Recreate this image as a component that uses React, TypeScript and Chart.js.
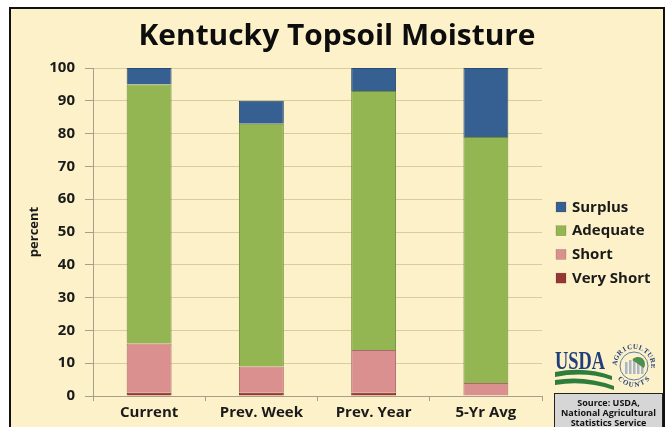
import React, { useEffect, useRef } from "react";
import { Chart, registerables } from "chart.js";

Chart.register(...registerables);

const categories = ["Current", "Prev. Week", "Prev. Year", "5-Yr Avg"];
const veryShort = [1, 1, 1, 0];
const short = [15, 8, 13, 4];
const adequate = [79, 74, 79, 75];
const surplus = [5, 7, 7, 21];
const yTicks = [0, 10, 20, 30, 40, 50, 60, 70, 80, 90, 100];

const TITLE = "Kentucky Topsoil Moisture";
const FONT = "'Open Sans', Lato, sans-serif";

const framePlugin = {
  id: "frame",
  beforeDraw(chart: any) {
    const ctx = chart.ctx;
    ctx.save();
    ctx.fillStyle = "#ffffff";
    ctx.fillRect(0, 0, chart.width, chart.height);
    ctx.fillStyle = "#FCF1C8";
    ctx.fillRect(10, 8, 654, chart.height);
    ctx.strokeStyle = "#111111";
    ctx.lineWidth = 2;
    ctx.beginPath();
    ctx.moveTo(10, chart.height + 5);
    ctx.lineTo(10, 8);
    ctx.lineTo(664, 8);
    ctx.lineTo(664, chart.height + 5);
    ctx.stroke();
    ctx.restore();
  },
  afterDraw(chart: any) {
    const ctx = chart.ctx;
    ctx.save();
    // title
    ctx.fillStyle = "#0d0d0d";
    ctx.font = `bold 28px ${FONT}`;
    ctx.textAlign = "center";
    ctx.textBaseline = "alphabetic";
    const tw = ctx.measureText(TITLE).width;
    ctx.save();
    ctx.translate(337, 45);
    ctx.scale(397 / tw, 1);
    ctx.fillText(TITLE, 0, 0);
    ctx.restore();

    // legend
    const items = [...chart.data.datasets].reverse();
    ctx.font = `bold 15px ${FONT}`;
    ctx.textAlign = "left";
    ctx.textBaseline = "middle";
    items.forEach((ds: any, i: number) => {
      const cy = 207 + i * 23.7;
      ctx.fillStyle = ds.backgroundColor;
      ctx.fillRect(556, cy - 5, 10, 10);
      ctx.strokeStyle = "rgba(0,0,0,0.25)";
      ctx.lineWidth = 0.5;
      ctx.strokeRect(556, cy - 5, 10, 10);
      ctx.fillStyle = "#1a1a1a";
      ctx.fillText(ds.label, 572, cy + 0.5);
    });

    // USDA logo approximation
    ctx.save();
    ctx.fillStyle = "#1F3E7C";
    ctx.font = `bold 26px 'Liberation Serif', serif`;
    ctx.textBaseline = "alphabetic";
    ctx.translate(555, 369);
    const uw = ctx.measureText("USDA").width;
    ctx.scale(50 / uw, 1);
    ctx.fillText("USDA", 0, 0);
    ctx.restore();

    // green swooshes
    ctx.fillStyle = "#2E7D3A";
    ctx.beginPath();
    ctx.moveTo(555, 372);
    ctx.quadraticCurveTo(585, 366, 612, 376);
    ctx.lineTo(612, 380);
    ctx.quadraticCurveTo(585, 371, 555, 377);
    ctx.closePath();
    ctx.fill();
    ctx.beginPath();
    ctx.moveTo(555, 380);
    ctx.quadraticCurveTo(585, 375, 614, 386);
    ctx.lineTo(614, 390);
    ctx.quadraticCurveTo(585, 380, 555, 385);
    ctx.closePath();
    ctx.fill();

    // emblem
    const ex = 634, ey = 366, er = 22;
    ctx.strokeStyle = "#5A7FA8";
    ctx.lineWidth = 1;
    ctx.beginPath();
    ctx.arc(ex, ey, er - 8, 0, Math.PI * 2);
    ctx.stroke();
    ctx.fillStyle = "#A8B8C8";
    for (let i = 0; i < 5; i++) {
      ctx.fillRect(ex - 9 + i * 4, ey - 4 - (i % 3) * 2, 2.5, 12 + (i % 3) * 2);
    }
    ctx.fillStyle = "#4E8E4E";
    ctx.beginPath();
    ctx.arc(ex + 4, ey - 2, 7, Math.PI * 1.2, Math.PI * 0.2);
    ctx.fill();
    ctx.fillStyle = "#1F3E7C";
    ctx.font = `bold 7px 'Liberation Serif', serif`;
    ctx.textAlign = "center";
    ctx.textBaseline = "middle";
    const top = "AGRICULTURE";
    for (let i = 0; i < top.length; i++) {
      const a = Math.PI * 1.05 + (i / (top.length - 1)) * Math.PI * 0.95;
      ctx.save();
      ctx.translate(ex + Math.cos(a) * (er - 3), ey + Math.sin(a) * (er - 3));
      ctx.rotate(a + Math.PI / 2);
      ctx.fillText(top[i], 0, 0);
      ctx.restore();
    }
    const bot = "COUNTS";
    for (let i = 0; i < bot.length; i++) {
      const a = Math.PI * 0.75 - (i / (bot.length - 1)) * Math.PI * 0.5;
      ctx.save();
      ctx.translate(ex + Math.cos(a) * (er - 3), ey + Math.sin(a) * (er - 3));
      ctx.rotate(a - Math.PI / 2);
      ctx.fillText(bot[i], 0, 0);
      ctx.restore();
    }

    // source box
    ctx.fillStyle = "#D6D6D6";
    ctx.fillRect(554, 393, 109, 40);
    ctx.strokeStyle = "#222222";
    ctx.lineWidth = 1;
    ctx.strokeRect(554.5, 393.5, 108, 40);
    ctx.fillStyle = "#111111";
    ctx.font = `bold 9px ${FONT}`;
    ctx.textAlign = "center";
    ctx.textBaseline = "middle";
    ctx.fillText("Source: USDA,", 608.5, 403);
    ctx.fillText("National Agricultural", 608.5, 413);
    ctx.fillText("Statistics Service", 608.5, 423);
    ctx.restore();
  },
};

export default function App() {
  const ref = useRef<HTMLCanvasElement>(null);
  useEffect(() => {
    document.body.style.margin = "0";
    const mk = (label: string, data: number[], color: string, border: string) => ({
      label,
      data,
      backgroundColor: color,
      borderColor: border,
      borderWidth: 1,
      barPercentage: 0.4,
      categoryPercentage: 1.0,
    });
    const chart = new Chart(ref.current as HTMLCanvasElement, {
      type: "bar",
      data: {
        labels: categories,
        datasets: [
          mk("Very Short", veryShort, "#953735", "#7a2a28"),
          mk("Short", short, "#D9908E", "#a86a68"),
          mk("Adequate", adequate, "#93B552", "#6f8c3a"),
          mk("Surplus", surplus, "#376092", "#284a73"),
        ],
      },
      options: {
        responsive: false,
        animation: false,
        layout: { padding: { left: 26, top: 68, right: 126, bottom: 0 } },
        plugins: {
          legend: { display: false },
          title: { display: false },
          tooltip: { enabled: false },
        },
        scales: {
          x: {
            stacked: true,
            afterFit: (s: any) => {
              s.height = 31;
            },
            grid: {
              offset: true,
              drawOnChartArea: false,
              drawTicks: true,
              tickLength: 5,
              color: "#A6A08A",
            },
            border: { display: true, color: "#A6A08A", width: 1 },
            ticks: {
              padding: 3,
              color: "#1a1a1a",
              font: { family: FONT, size: 15, weight: "bold" },
            },
          },
          y: {
            stacked: true,
            min: 0,
            max: 100,
            afterFit: (s: any) => {
              s.width = 67;
            },
            afterBuildTicks: (s: any) => {
              s.ticks = yTicks.map((v) => ({ value: v }));
            },
            grid: {
              color: "#D9CD9C",
              lineWidth: 1,
              tickLength: 8,
              tickColor: "#A6A08A",
            },
            border: { display: true, color: "#A6A08A", width: 1 },
            ticks: {
              padding: 10,
              color: "#1a1a1a",
              font: { family: FONT, size: 15, weight: "bold" },
            },
            title: {
              display: true,
              text: "percent",
              color: "#1a1a1a",
              padding: { top: 0, bottom: 0 },
              font: { family: FONT, size: 13, weight: "bold" },
            },
          },
        },
      },
      plugins: [framePlugin],
    } as any);
    return () => chart.destroy();
  }, []);
  return (
    <div style={{ position: "absolute", left: 0, top: 0, width: 668, height: 427 }}>
      <canvas ref={ref} width={668} height={427} style={{ width: 668, height: 427 }} />
    </div>
  );
}
